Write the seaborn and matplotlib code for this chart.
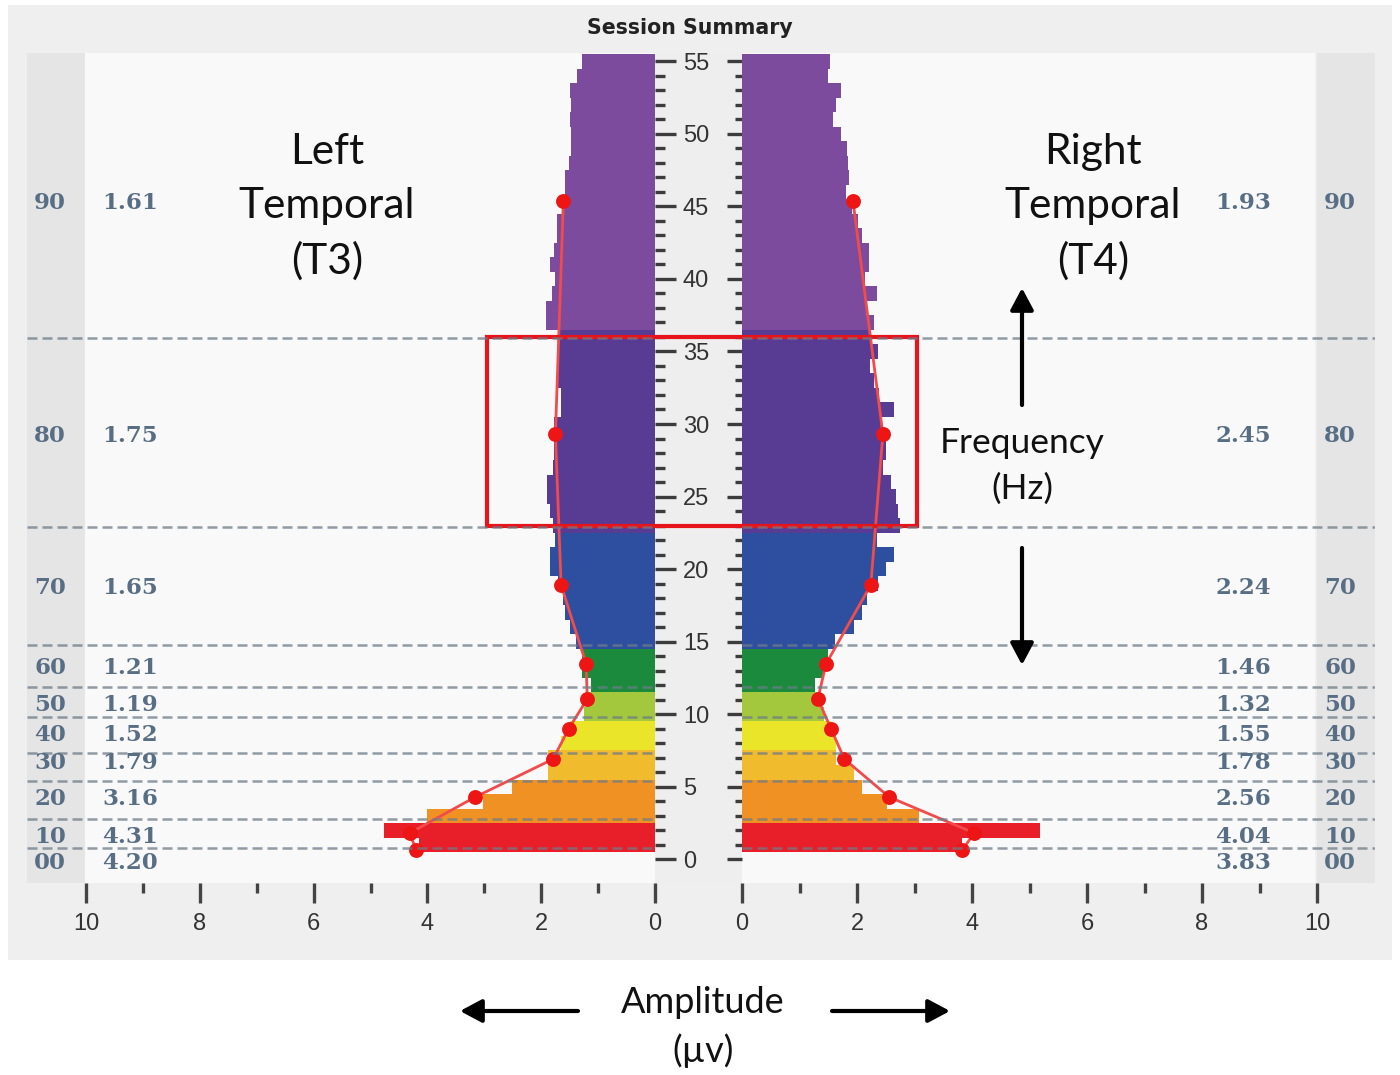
# Importando bibliotecas
import matplotlib
matplotlib.use("Agg")
import matplotlib.pyplot as plt
import matplotlib.ticker as ticker
from matplotlib.patches import Rectangle
import seaborn as sns
import numpy as np
import pandas as pd

#
# 01. Dados
#
binsHz = list(range(1, 56))   # centro de cada faixa de 1 Hz

ampT3 = [4.15, 4.76, 4.00, 3.02, 2.51, 1.88, 1.88, 1.66, 1.50, 1.25,
         1.19, 1.12, 1.29, 1.29, 1.38, 1.50, 1.59, 1.62, 1.70, 1.85,
         1.85, 1.76, 1.79, 1.85, 1.89, 1.89, 1.79, 1.77, 1.77, 1.77,
         1.66, 1.66, 1.71, 1.71, 1.71, 1.71, 1.91, 1.91, 1.81, 1.76,
         1.85, 1.77, 1.73, 1.73, 1.61, 1.58, 1.58, 1.52, 1.47, 1.47,
         1.50, 1.48, 1.50, 1.37, 1.28]
ampT4 = [3.83, 5.19, 3.08, 2.53, 2.09, 1.95, 1.63, 1.63, 1.54, 1.43,
         1.31, 1.27, 1.43, 1.49, 1.61, 1.95, 2.09, 2.18, 2.36, 2.50,
         2.64, 2.34, 2.75, 2.72, 2.68, 2.59, 2.46, 2.50, 2.50, 2.44,
         2.64, 2.38, 2.30, 2.23, 2.37, 2.24, 2.30, 2.15, 2.34, 2.14,
         2.21, 2.21, 2.09, 2.01, 1.92, 1.81, 1.86, 1.84, 1.82, 1.73,
         1.59, 1.63, 1.72, 1.49, 1.53]

faixas = ["00", "10", "20", "30", "40", "50", "60", "70", "80", "90"]
mediaT3 = [4.20, 4.31, 3.16, 1.79, 1.52, 1.19, 1.21, 1.65, 1.75, 1.61]
mediaT4 = [3.83, 4.04, 2.56, 1.78, 1.55, 1.32, 1.46, 2.24, 2.45, 1.93]
pontoHz = [0.64, 1.81, 4.29, 6.91, 8.98, 11.05, 13.46, 18.9, 29.3, 45.4]
rotuloHz = [-0.25, 1.55, 4.17, 6.65, 8.58, 10.65, 13.2, 18.7, 29.2, 45.2]
divisoesHz = [0.8, 2.8, 5.4, 7.3, 9.8, 11.9, 14.8, 22.9, 35.9]
destaqueHz = (23, 36)
destaqueAmp = 2.95

ticksAmp = [0, 2, 4, 6, 8, 10]
ticksAmpMenor = list(range(0, 11))
ticksHz = list(range(0, 56, 5))
ticksHzMenor = list(range(0, 56))

# cores do espectro (limite superior de cada grupo, em Hz)
limitesCor = [2, 5, 7, 9, 11, 14, 22, 36, 55]
coresFaixa = ["#e81e28", "#f09123", "#f1bb2e", "#ebe52a", "#a3c83d",
              "#1c8a3d", "#2e4fa0", "#583c94", "#7c4b9e"]
paleta = {f"c{i}": c for i, c in enumerate(coresFaixa)}
grupoCor = [f"c{i}" for i in np.searchsorted(limitesCor, binsHz)]

dfT3 = pd.DataFrame({"hz": binsHz, "amp": ampT3, "cor": grupoCor})
dfT4 = pd.DataFrame({"hz": binsHz, "amp": ampT4, "cor": grupoCor})

#
# 02. Tema e layout (em pixels)
#
sns.set_theme(style="white")
plt.rcParams["font.family"] = ["Liberation Sans", "DejaVu Sans"]

W, H = 1400, 1075
Y_TOPO, Y_BASE = 53, 883
X_T3 = (86, 655)
X_T4 = (742, 1317)
HZ_LIM = (-1.633, 55.569)


def caixa(x0, x1, y0=Y_TOPO, y1=Y_BASE):
    return [x0 / W, 1 - y1 / H, (x1 - x0) / W, (y1 - y0) / H]


fig = plt.figure(figsize=(14, 10.75), dpi=100, facecolor="white")

# fundo
axFundo = fig.add_axes([0, 0, 1, 1], zorder=0)
axFundo.set_xlim(0, W)
axFundo.set_ylim(H, 0)
axFundo.axis("off")
for (x0, y0, x1, y1, cor) in [(8, 5, 1392, 960, "#efefef"),
                              (85, 53, 1315, 883, "#f9f9f9"),
                              (27, 53, 85, 883, "#e5e5e5"),
                              (1317, 53, 1375, 883, "#e5e5e5"),
                              (655, 53, 742, 883, "#eeeeee")]:
    axFundo.add_patch(Rectangle((x0, y0), x1 - x0, y1 - y0, color=cor, lw=0))

#
# 03. Barras
#
axL = fig.add_axes(caixa(*X_T3), zorder=1)
axR = fig.add_axes(caixa(*X_T4), zorder=1)

for ax, df, medias in [(axL, dfT3, mediaT3), (axR, dfT4, mediaT4)]:
    ax.set_facecolor("none")
    sns.barplot(data=df, x="amp", y="hz", hue="cor", palette=paleta,
                orient="y", native_scale=True, width=1.0, saturation=1,
                dodge=False, errorbar=None, legend=False, linewidth=0, ax=ax)
    sns.lineplot(x=medias, y=pontoHz, sort=False, estimator=None,
                 color="#f24b4b", linewidth=2.0, ax=ax, zorder=3)
    sns.scatterplot(x=medias, y=pontoHz, color="#ee1515", s=115,
                    linewidth=0, ax=ax, zorder=4)
    ax.set_xlabel("")
    ax.set_ylabel("")
    ax.set_ylim(*HZ_LIM)
    for s in ax.spines.values():
        s.set_visible(False)
    ax.xaxis.set_major_locator(ticker.FixedLocator(ticksAmp))
    ax.xaxis.set_minor_locator(ticker.FixedLocator(ticksAmpMenor))
    ax.yaxis.set_major_locator(ticker.FixedLocator(ticksHz))
    ax.yaxis.set_minor_locator(ticker.FixedLocator(ticksHzMenor))
    ax.tick_params(axis="x", which="major", bottom=True, direction="out",
                   length=14.4, width=2.4, color="#444444", pad=7,
                   labelsize=17, labelcolor="#333333")
    ax.tick_params(axis="x", which="minor", bottom=True, direction="out",
                   length=7.2, width=2.4, color="#444444")

axL.set_xlim(10, 0)
axR.set_xlim(0, 10)

# eixo de frequência no centro
axL.tick_params(axis="y", which="both", left=False, right=True,
                labelleft=False, labelright=True, direction="out",
                color="#3c3c3c", width=2.4)
axL.tick_params(axis="y", which="major", length=15, pad=5,
                labelsize=17, labelcolor="#333333")
axL.tick_params(axis="y", which="minor", length=7.5)
axR.tick_params(axis="y", which="both", left=True, right=False,
                labelleft=False, direction="out", color="#3c3c3c", width=2.4)
axR.tick_params(axis="y", which="major", length=11)
axR.tick_params(axis="y", which="minor", length=5)

#
# 04. Divisões das faixas e valores médios
#
axSob = fig.add_axes(caixa(27, 1375), zorder=4)
axSob.set_facecolor("none")
axSob.set_xlim(27, 1375)
axSob.set_ylim(*HZ_LIM)
axSob.axis("off")

for f in divisoesHz:
    for (x0, x1) in [(27, 655), (742, 1375)]:
        axSob.hlines(f, x0, x1, colors="#6d7c88", linewidth=1.8,
                     linestyles=(0, (4, 2)), alpha=0.75)

estiloRotulo = dict(family="DejaVu Serif", fontsize=16.5, color="#586e84",
                    fontweight="bold", ha="center", va="center")
for i, faixa in enumerate(faixas):
    axSob.text(50, rotuloHz[i], faixa, **estiloRotulo)
    axSob.text(130, rotuloHz[i], f"{mediaT3[i]:.2f}", **estiloRotulo)
    axSob.text(1243, rotuloHz[i], f"{mediaT4[i]:.2f}", **estiloRotulo)
    axSob.text(1340, rotuloHz[i], faixa, **estiloRotulo)

# destaque da faixa beta
escT3 = (X_T3[1] - X_T3[0]) / 10
escT4 = (X_T4[1] - X_T4[0]) / 10
xa = X_T3[1] - destaqueAmp * escT3
xb = X_T4[0] + (destaqueAmp + 0.1) * escT4
axSob.add_patch(Rectangle((xa, destaqueHz[0]), xb - xa,
                          destaqueHz[1] - destaqueHz[0], fill=False,
                          edgecolor="#e8141c", linewidth=3.0))

#
# 05. Textos e setas
#
axTopo = fig.add_axes([0, 0, 1, 1], zorder=6)
axTopo.set_facecolor("none")
axTopo.set_xlim(0, W)
axTopo.set_ylim(H, 0)
axTopo.axis("off")

axTopo.text(690, 28, "Session Summary", family="DejaVu Sans",
            fontweight="bold", fontsize=14.8, color="#222222",
            ha="center", va="center")

estiloGrande = dict(family=["Lato", "DejaVu Sans"], color="#111111",
                    ha="center", va="center")
axTopo.text(327, 207, "Left\nTemporal\n(T3)", fontsize=30.5,
            linespacing=1.5, **estiloGrande)
axTopo.text(1093, 207, "Right\nTemporal\n(T4)", fontsize=30.5,
            linespacing=1.5, **estiloGrande)
axTopo.text(1022, 466, "Frequency\n(Hz)", fontsize=25.5,
            linespacing=1.55, **estiloGrande)
axTopo.text(703, 1027, "Amplitude\n(µv)", fontsize=26,
            linespacing=1.5, **estiloGrande)

seta = dict(arrowstyle="-|>,head_length=0.6,head_width=0.32",
            color="black", lw=3, mutation_scale=22, shrinkA=0, shrinkB=0)
for (xi, yi, xf, yf) in [(1022, 405, 1022, 288), (1022, 548, 1022, 665),
                         (578, 1011, 460, 1011), (832, 1011, 950, 1011)]:
    axTopo.annotate("", xy=(xf, yf), xytext=(xi, yi), arrowprops=seta)

#
# 06. Gerando imagem
#
fig.savefig("out.png", dpi=100, facecolor="white")
